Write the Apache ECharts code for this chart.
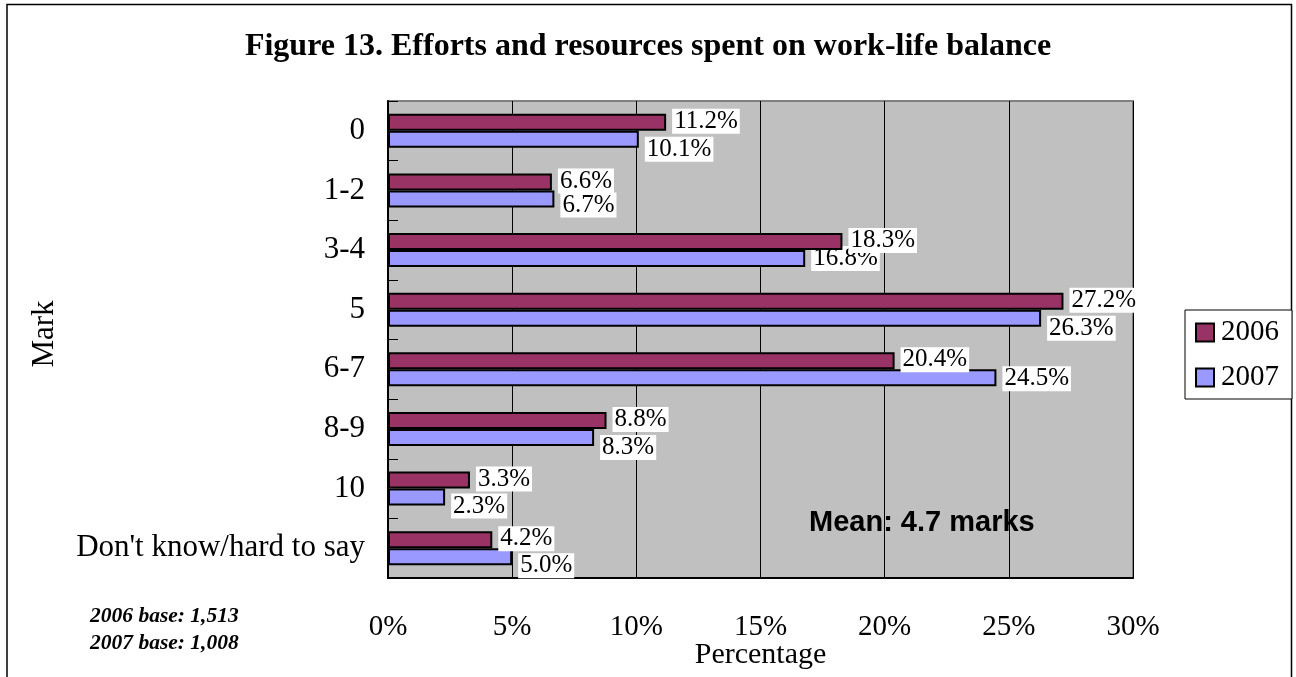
<!DOCTYPE html>
<html>
<head>
<meta charset="utf-8">
<title>Efforts and resources spent on work-life balance</title>
<script src="https://cdn.jsdelivr.net/npm/echarts@6/dist/echarts.min.js"></script>
<style>
  html, body { margin: 0; padding: 0; background: #ffffff; }
  #chart { width: 1296px; height: 677px; }
</style>
</head>
<body>
<div id="chart"></div>
<script>
// Marks given by respondents, top to bottom
const categories = ['0', '1-2', '3-4', '5', '6-7', '8-9', '10', "Don't know/hard to say"];
// Share of respondents, %
const values2006 = [11.2, 6.6, 18.3, 27.2, 20.4, 8.8, 3.3, 4.2];
const values2007 = [10.1, 6.7, 16.8, 26.3, 24.5, 8.3, 2.3, 5.0];
const seriesNames = ['2006', '2007'];
const xTicks = { min: 0, max: 30, step: 5 };
const titleText = 'Figure 13. Efforts and resources spent on work-life balance';
const meanText = 'Mean: 4.7 marks';
const baseNotes = ['2006 base: 1,513', '2007 base: 1,008'];

// vertical nudge for the 2007 labels so they clear the 2006 labels
const drop2007 = [10, 6, 0, 10, 1, 10, 9, 9];

const SERIF = "'Liberation Serif', 'Times New Roman', serif";
const SANS = "'Liberation Sans', Arial, sans-serif";

const labelBase = {
  show: true,
  position: 'right',
  distance: 6,
  formatter: p => p.value.toFixed(1) + '%',
  color: '#000',
  fontFamily: SERIF,
  fontSize: 25,
  lineHeight: 24,
  backgroundColor: '#ffffff',
  padding: [1, 2, 0, 2]
};

const chart = echarts.init(document.getElementById('chart'), null, { renderer: 'canvas' });

chart.setOption({
  animation: false,
  backgroundColor: '#ffffff',
  title: {
    text: titleText,
    left: 'center',
    top: 26,
    textStyle: { fontFamily: SERIF, fontWeight: 'bold', fontSize: 32, color: '#000' }
  },
  legend: {
    orient: 'vertical',
    left: 1185,
    top: 310,
    padding: [8, 13, 7, 10],
    itemGap: 16,
    itemWidth: 18,
    itemHeight: 18,
    icon: 'rect',
    borderColor: '#000',
    borderWidth: 1,
    backgroundColor: '#ffffff',
    textStyle: { fontFamily: SERIF, fontSize: 29, color: '#000', padding: [0, 0, 0, 2] },
    data: seriesNames
  },
  grid: {
    left: 388,
    top: 101,
    right: 163,
    bottom: 99,
    containLabel: false,
    outerBoundsMode: 'none',
    show: true,
    backgroundColor: '#c0c0c0',
    borderColor: '#808080',
    borderWidth: 2
  },
  xAxis: {
    type: 'value',
    min: xTicks.min,
    max: xTicks.max,
    interval: xTicks.step,
    name: 'Percentage',
    nameLocation: 'middle',
    nameGap: 62,
    nameMoveOverlap: false,
    nameTextStyle: { fontFamily: SERIF, fontSize: 30, color: '#000' },
    axisLine: { show: true, lineStyle: { color: '#000', width: 2 } },
    axisTick: { show: false },
    splitLine: { show: true, lineStyle: { color: '#000', width: 1 } },
    axisLabel: {
      formatter: '{value}%',
      margin: 35,
      fontFamily: SERIF,
      fontSize: 29,
      color: '#000'
    }
  },
  yAxis: {
    type: 'category',
    inverse: true,
    data: categories,
    axisLine: { show: true, lineStyle: { color: '#000', width: 2 } },
    axisTick: { show: true, inside: true, length: 10, lineStyle: { color: '#000', width: 1 } },
    splitLine: { show: false },
    axisLabel: {
      margin: 23,
      fontFamily: SERIF,
      fontSize: 31,
      color: '#000'
    }
  },
  series: [
    {
      name: seriesNames[0],
      type: 'bar',
      z: 3,
      barWidth: 17,
      barGap: '0%',
      itemStyle: { color: '#993366', borderColor: '#000', borderWidth: 2 },
      label: Object.assign({}, labelBase, { offset: [0, -1] }),
      data: values2006
    },
    {
      name: seriesNames[1],
      type: 'bar',
      z: 2,
      barWidth: 17,
      barGap: '0%',
      itemStyle: { color: '#9999ff', borderColor: '#000', borderWidth: 2 },
      label: labelBase,
      data: values2007.map((v, i) => ({
        value: v,
        label: { offset: [0, drop2007[i]] }
      }))
    }
  ],
  graphic: [
    {
      type: 'rect',
      silent: true,
      shape: { x: 7, y: 4.5, width: 1284.5, height: 700 },
      style: { fill: 'none', stroke: '#000', lineWidth: 1.5 }
    },
    {
      type: 'text',
      silent: true,
      rotation: Math.PI / 2,
      x: 45,
      y: 334,
      style: {
        text: 'Mark',
        fontFamily: SERIF,
        fontSize: 31,
        fill: '#000',
        align: 'center',
        verticalAlign: 'middle'
      }
    },
    {
      type: 'text',
      silent: true,
      left: 809,
      top: 508,
      z: 10,
      style: {
        text: meanText,
        fontFamily: SANS,
        fontWeight: 'bold',
        fontSize: 29,
        fill: '#000'
      }
    },
    {
      type: 'text',
      silent: true,
      left: 90,
      top: 603,
      style: {
        text: baseNotes.join('\n'),
        fontFamily: SERIF,
        fontWeight: 'bold',
        fontStyle: 'italic',
        fontSize: 21.5,
        lineHeight: 27,
        fill: '#000'
      }
    }
  ]
});
</script>
</body>
</html>
